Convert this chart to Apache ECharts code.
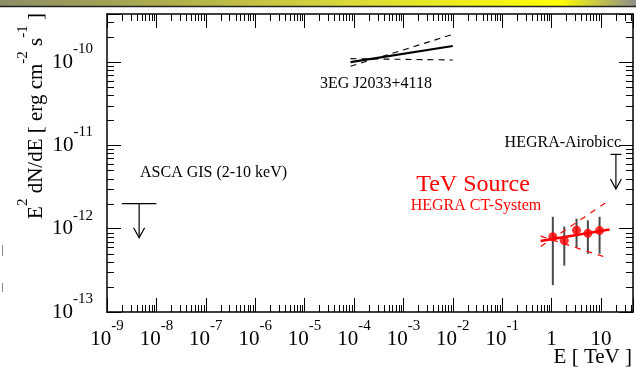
<!DOCTYPE html>
<html><head><meta charset="utf-8">
<script src="https://cdn.jsdelivr.net/npm/echarts@6/dist/echarts.min.js"></script>
<style>html,body{margin:0;padding:0;background:#fff}#c{width:636px;height:376px}</style>
</head><body><div id="c"></div>
<script>
// ---------------- data (E in TeV, E^2 dN/dE in erg cm^-2 s^-1) ----------------
const xTickExponents = [-9, -8, -7, -6, -5, -4, -3, -2, -1, 0, 1];
const yTickExponents = [-13, -12, -11, -10];
const xRange = [1e-9, 44.5];
const yRange = [1e-13, 3.78e-10];

// 3EG J2033+4118 power-law and bow-tie
const egretE = [8.5e-5, 1.0e-2];
const egretFit = [1.0e-10, 1.56e-10];
const egretBandSteep = [8.9e-11, 2.15e-10];
const egretBandFlat = [1.1e-10, 1.06e-10];

// HEGRA CT-System points
const hegraE = [1.06, 1.81, 3.2, 5.43, 9.37];
const hegraFlux = [8.0e-13, 7.2e-13, 9.6e-13, 8.8e-13, 9.5e-13];
const hegraErrLo = [2.1e-13, 3.6e-13, 5.9e-13, 5.0e-13, 5.0e-13];
const hegraErrHi = [1.39e-12, 1.06e-12, 1.32e-12, 1.26e-12, 1.39e-12];
// HEGRA power-law fit and bow-tie
const hegraFitE = [0.6, 14.9];
const hegraFit = [7.1e-13, 9.8e-13];
const hegraBandUpE = [0.6, 14.9];
const hegraBandUp = [6.1e-13, 2.2e-12];
const hegraBandLoE = [0.6, 13.0];
const hegraBandLo = [8.15e-13, 4.5e-13];

// upper limits: ASCA GIS (2-10 keV), HEGRA-Airobicc
const ulNames = ['ASCA GIS (2-10 keV)', 'HEGRA-Airobicc'];
const ulEmin = [2e-9, 15.6];
const ulEmax = [1e-8, 25.8];
const ulFlux = [2.0e-12, 7.8e-12];
const ulArrowTo = [7.8e-13, 3.0e-12];

// ---------------- build ----------------
const L = Math.log10;
const XMIN = L(xRange[0]), XMAX = L(xRange[1]);
const YMIN = L(yRange[0]), YMAX = L(yRange[1]);
const SERIF = 'Liberation Serif';
const MAJOR = 14, MINOR = 7;

const rich = {
  b: {fontFamily: SERIF, fontSize: 21, lineHeight: 31, verticalAlign: 'bottom', color: '#000'},
  e: {fontFamily: SERIF, fontSize: 15, lineHeight: 15, verticalAlign: 'top', color: '#000'}
};
function powLabel(v) {
  const e = Math.round(v);
  if (Math.abs(v - e) > 1e-6) return '';
  if (e === 0) return '{b|1}';
  if (e === 1) return '{b|10}';
  return '{b|10}{e|' + e + '}';
}

// minor tick decoration of the log axes (2..9 in each decade)
const minorTicks = [];
for (let d = Math.floor(XMIN); d <= Math.ceil(XMAX); d++) {
  for (let m = 2; m <= 9; m++) { const v = d + L(m); if (v > XMIN && v < XMAX) minorTicks.push([v, YMIN, 0]); }
}
for (let d = Math.floor(YMIN); d <= Math.ceil(YMAX); d++) {
  for (let m = 2; m <= 9; m++) { const v = d + L(m); if (v > YMIN && v < YMAX) minorTicks.push([XMIN, v, 1]); }
}

const pair = (xs, ys) => xs.map((x, i) => [L(x), L(ys[i])]);

const axisCommon = {
  type: 'value',
  interval: 1,
  axisLine: {show: true, onZero: false, lineStyle: {color: '#000', width: 1.5}},
  axisTick: {show: true, inside: true, length: MAJOR, lineStyle: {color: '#000', width: 1}},
  splitLine: {show: false}
};

const option = {
  animation: false,
  backgroundColor: '#fff',
  grid: {left: 107, right: 3, top: 14, bottom: 64, containLabel: false, outerBoundsMode: 'none'},
  xAxis: [
    Object.assign({}, axisCommon, {
      position: 'bottom', min: XMIN, max: XMAX,
      axisLabel: {margin: 7, formatter: powLabel, rich: rich}
    }),
    Object.assign({}, axisCommon, {position: 'top', min: XMIN, max: XMAX, axisLabel: {show: false}})
  ],
  yAxis: [
    Object.assign({}, axisCommon, {
      position: 'left', min: YMIN, max: YMAX,
      axisLabel: {margin: 14, formatter: powLabel, rich: rich, padding: [0, 0, 10, 0]}
    }),
    Object.assign({}, axisCommon, {position: 'right', min: YMIN, max: YMAX, axisLabel: {show: false}})
  ],
  graphic: [
    {type: 'rect', shape: {x: 0, y: 0, width: 636, height: 6}, style: {fill: {type: 'linear', x: 0, y: 0, x2: 1, y2: 0, colorStops: [
      {offset: 0, color: '#8d8d66'}, {offset: 0.3, color: '#b3b34a'}, {offset: 0.55, color: '#d9d93a'},
      {offset: 0.88, color: '#ffff00'}, {offset: 1, color: '#8c8c8c'}]}}, silent: true},
    {type: 'line', shape: {x1: 0, y1: 6.5, x2: 636, y2: 6.5}, style: {stroke: '#222', lineWidth: 1.5}, silent: true},
    {type: 'line', shape: {x1: 2.5, y1: 245, x2: 2.5, y2: 256}, style: {stroke: '#888', lineWidth: 1}, silent: true},
    {type: 'line', shape: {x1: 2.5, y1: 283, x2: 2.5, y2: 292}, style: {stroke: '#888', lineWidth: 1}, silent: true},
    {type: 'text', x: 31, y: 116, rotation: Math.PI / 2, style: {
      text: '{b|E}{e|2}{b| dN/dE [ erg cm}{e|-2}{b| s}{e|-1}{b| ]}', rich: rich, align: 'center', verticalAlign: 'middle'}},
    {type: 'text', x: 632, y: 357, style: {text: 'E [ TeV ]', font: '21px "Liberation Serif"', fill: '#000', align: 'right', verticalAlign: 'middle'}},
    {type: 'text', x: 320, y: 84, style: {text: '3EG J2033+4118', font: '16px "Liberation Serif"', fill: '#000', align: 'left', verticalAlign: 'middle'}},
    {type: 'text', x: 140, y: 173, style: {text: ulNames[0], font: '16px "Liberation Serif"', fill: '#000', align: 'left', verticalAlign: 'middle'}},
    {type: 'text', x: 621, y: 143, style: {text: ulNames[1], font: '16px "Liberation Serif"', fill: '#000', align: 'right', verticalAlign: 'middle'}},
    {type: 'text', x: 473, y: 185, style: {text: 'TeV Source', font: '24px "Liberation Serif"', fill: '#ff0000', align: 'center', verticalAlign: 'middle'}},
    {type: 'text', x: 476, y: 206, style: {text: 'HEGRA CT-System', font: '16px "Liberation Serif"', fill: '#ff0000', align: 'center', verticalAlign: 'middle'}}
  ],
  series: [
    {
      type: 'custom', name: 'minor ticks', clip: false, silent: true, z: 1,
      data: minorTicks,
      renderItem: function (params, api) {
        const cs = params.coordSys;
        const st = {stroke: '#000', lineWidth: 1};
        if (api.value(2) === 0) {
          const x = Math.round(api.coord([api.value(0), YMIN])[0]) + 0.5;
          const b = cs.y + cs.height, t = cs.y;
          return {type: 'group', children: [
            {type: 'line', shape: {x1: x, y1: b, x2: x, y2: b - MINOR}, style: st},
            {type: 'line', shape: {x1: x, y1: t, x2: x, y2: t + MINOR}, style: st}]};
        }
        const y = Math.round(api.coord([XMIN, api.value(1)])[1]) + 0.5;
        const l = cs.x, r = cs.x + cs.width;
        return {type: 'group', children: [
          {type: 'line', shape: {x1: l, y1: y, x2: l + MINOR, y2: y}, style: st},
          {type: 'line', shape: {x1: r, y1: y, x2: r - MINOR, y2: y}, style: st}]};
      }
    },
    {type: 'line', name: '3EG fit', data: pair(egretE, egretFit), symbol: 'none', z: 3,
      lineStyle: {color: '#000', width: 2.2}},
    {type: 'line', name: '3EG band steep', data: pair(egretE, egretBandSteep), symbol: 'none', z: 3,
      lineStyle: {color: '#000', width: 1.1, type: [6, 5]}},
    {type: 'line', name: '3EG band flat', data: pair(egretE, egretBandFlat), symbol: 'none', z: 3,
      lineStyle: {color: '#000', width: 1.1, type: [6, 5]}},
    {
      type: 'custom', name: 'upper limits', clip: false, z: 3,
      encode: {x: [0, 1], y: [2, 3]},
      data: ulEmin.map((e, i) => [L(e), L(ulEmax[i]), L(ulFlux[i]), L(ulArrowTo[i])]),
      renderItem: function (params, api) {
        const a = api.coord([api.value(0), api.value(2)]);
        const b = api.coord([api.value(1), api.value(2)]);
        const tip = api.coord([api.value(0), api.value(3)])[1];
        const xc = (a[0] + b[0]) / 2;
        const st = {stroke: '#000', lineWidth: 1.2, fill: null};
        return {type: 'group', children: [
          {type: 'line', shape: {x1: a[0], y1: a[1], x2: b[0], y2: b[1]}, style: st},
          {type: 'line', shape: {x1: xc, y1: a[1], x2: xc, y2: tip}, style: st},
          {type: 'polyline', shape: {points: [[xc - 5.5, tip - 10], [xc, tip], [xc + 5.5, tip - 10]]}, style: st}]};
      }
    },
    {
      type: 'custom', name: 'HEGRA errors', z: 3,
      encode: {x: 0, y: [1, 2]},
      data: hegraE.map((e, i) => [L(e), L(hegraErrLo[i]), L(hegraErrHi[i])]),
      renderItem: function (params, api) {
        const p1 = api.coord([api.value(0), api.value(1)]);
        const p2 = api.coord([api.value(0), api.value(2)]);
        return {type: 'line', shape: {x1: p1[0], y1: p1[1], x2: p2[0], y2: p2[1]}, style: {stroke: '#4a4a4a', lineWidth: 2}};
      }
    },
    {type: 'line', name: 'HEGRA fit', data: pair(hegraFitE, hegraFit), symbol: 'none', z: 4,
      lineStyle: {color: '#ff0000', width: 2.5}},
    {type: 'line', name: 'HEGRA band up', data: pair(hegraBandUpE, hegraBandUp), symbol: 'none', z: 4,
      lineStyle: {color: '#ff0000', width: 1.2, type: [6, 6]}},
    {type: 'line', name: 'HEGRA band low', data: pair(hegraBandLoE, hegraBandLo), symbol: 'none', z: 4,
      lineStyle: {color: '#ff0000', width: 1.2, type: [6, 6]}},
    {type: 'scatter', name: 'HEGRA', data: pair(hegraE, hegraFlux), symbol: 'circle', symbolSize: 9, z: 5,
      itemStyle: {color: '#ff0000'}}
  ]
};
const chart = echarts.init(document.getElementById('c'), null, {renderer: 'canvas'});
chart.setOption(option);
</script>
</body></html>
